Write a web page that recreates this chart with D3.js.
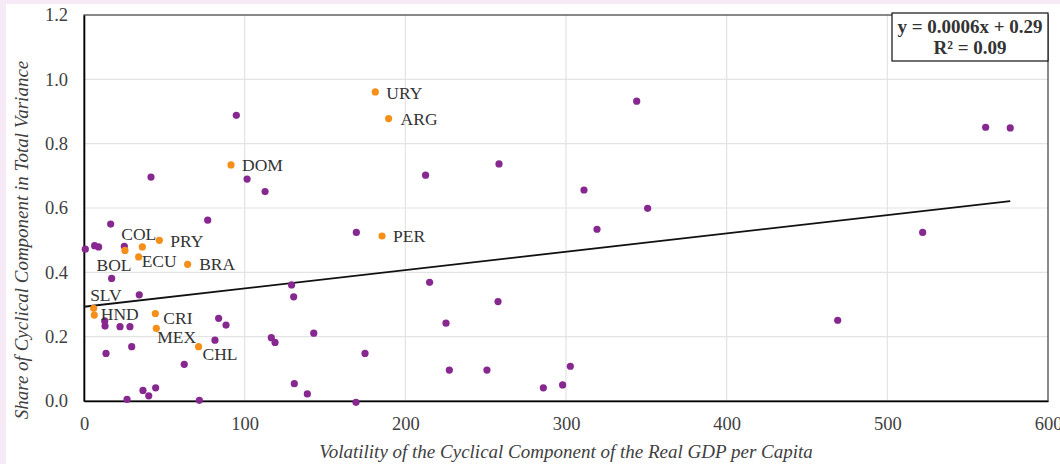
<!DOCTYPE html>
<html lang="en">
<head>
<meta charset="utf-8">
<title>Cyclical share vs volatility</title>
<script src="https://d3js.org/d3.v7.min.js"></script>
<style>
  body { margin: 0; background: #f5eaf6; }
  svg { display: block; }
  .tick text { font-family: "Liberation Serif", serif; font-size: 18.5px; fill: #404040; }
  .grid line { stroke: #e3e3e3; stroke-width: 1.2; }
  .axis-title { font-family: "Liberation Serif", serif; font-style: italic; font-size: 19px; fill: #404040; }
  .lbl { font-family: "Liberation Serif", serif; font-size: 17.5px; fill: #333; }
  .eq { font-family: "Liberation Serif", serif; font-weight: bold; font-size: 19px; fill: #333; }
</style>
</head>
<body>
<div id="chart"></div>
<script>
// labelled countries (orange)
const namedCodes = ["URY", "ARG", "DOM", "PER", "PRY", "COL", "BOL", "ECU", "BRA", "SLV", "HND", "CRI", "MEX", "CHL"];
const namedX = [181.3, 189.6, 91.5, 185.5, 46.9, 36.3, 25.5, 34.0, 64.5, 6.0, 6.4, 44.4, 45.0, 71.3];
const namedY = [0.961, 0.878, 0.734, 0.513, 0.4995, 0.479, 0.468, 0.448, 0.425, 0.288, 0.267, 0.272, 0.226, 0.169];

// other countries (purple)
const otherX = [94.8, 344, 561.2, 576.5, 41.7, 101.5, 112.7, 16.6, 77.0,
  0.8, 6.6, 9.1, 25.1, 169.5, 17.2, 129.2, 130.5, 34.4,
  12.9, 13.1, 22.4, 28.6, 13.7, 29.7, 83.8, 88.4, 81.5, 62.4,
  116.6, 118.9, 143.0, 130.9, 139.0, 169.3, 36.7, 40.3, 44.6, 26.8, 71.8,
  212.6, 258.3, 311.2, 350.8, 319.3, 215.1, 257.7,
  174.9, 225.3, 227.4, 250.8, 285.9, 297.9, 302.7, 522, 469.1];
const otherY = [0.888, 0.932, 0.851, 0.849, 0.696, 0.690, 0.651, 0.550, 0.562,
  0.472, 0.483, 0.479, 0.481, 0.524, 0.381, 0.361, 0.324, 0.330,
  0.249, 0.233, 0.231, 0.231, 0.148, 0.169, 0.257, 0.236, 0.189, 0.114,
  0.197, 0.182, 0.211, 0.054, 0.022, -0.004, 0.033, 0.016, 0.041, 0.005, 0.002,
  0.702, 0.737, 0.656, 0.599, 0.534, 0.369, 0.309,
  0.148, 0.242, 0.096, 0.096, 0.041, 0.050, 0.108, 0.524, 0.251];

// linear trend
const trendSlope = 0.00057;
const trendIntercept = 0.293;
const eqLines = ["y = 0.0006x + 0.29", "R² = 0.09"];

const xTicks = [0, 100, 200, 300, 400, 500, 600];
const yTicks = [0, 0.2, 0.4, 0.6, 0.8, 1.0, 1.2];

const xTitle = "Volatility of  the Cyclical Component of  the Real GDP per Capita";
const yTitle = "Share of  Cyclical Component in Total Variance";

const w = 1060, h = 464;
const m = {left: 84, right: 12, top: 15, bottom: 63};
const serif = '"Liberation Serif", serif';

const svg = d3.select("#chart").append("svg")
  .attr("width", w).attr("height", h);

// white panel with pink margin
svg.append("rect").attr("x", 0).attr("y", 0).attr("width", w).attr("height", h).attr("fill", "#f5eaf6");
svg.append("rect").attr("x", 6).attr("y", 4).attr("width", w - 6).attr("height", h - 4).attr("fill", "#fff");

const x = d3.scaleLinear().domain([0, 600]).range([m.left, w - m.right]);
const y = d3.scaleLinear().domain([0, 1.2]).range([h - m.bottom, m.top]);

// gridlines
svg.append("g").attr("class", "grid")
  .selectAll("line").data(xTicks.slice(1, -1)).join("line")
  .attr("x1", d => x(d)).attr("x2", d => x(d))
  .attr("y1", y(0)).attr("y2", y(1.2));
svg.append("g").attr("class", "grid")
  .selectAll("line").data(yTicks.slice(1, -1)).join("line")
  .attr("y1", d => y(d)).attr("y2", d => y(d))
  .attr("x1", x(0)).attr("x2", x(600));

// frame
svg.append("rect")
  .attr("x", x(0)).attr("y", y(1.2))
  .attr("width", x(600) - x(0)).attr("height", y(0) - y(1.2))
  .attr("fill", "none").attr("stroke", "#4a4a4a").attr("stroke-width", 1.3);

// axes
const xAxis = svg.append("g").attr("transform", `translate(0,${y(0)})`)
  .call(d3.axisBottom(x).tickValues(xTicks).tickSize(0).tickPadding(16).tickFormat(d3.format("d")))
  .attr("font-family", serif).attr("font-size", 18.5);
xAxis.select(".domain").attr("stroke", "#000").attr("stroke-width", 1.6);

const yAxis = svg.append("g").attr("transform", `translate(${x(0)},0)`)
  .call(d3.axisLeft(y).tickValues(yTicks).tickSize(0).tickPadding(16).tickFormat(d3.format(".1f")))
  .attr("font-family", serif).attr("font-size", 18.5);
yAxis.select(".domain").attr("stroke", "#000").attr("stroke-width", 1.6);

// trend line
const xMax = d3.max(otherX.concat(namedX));
svg.append("line")
  .attr("x1", x(0)).attr("y1", y(trendIntercept))
  .attr("x2", x(xMax)).attr("y2", y(trendIntercept + trendSlope * xMax))
  .attr("stroke", "#111").attr("stroke-width", 1.8);

// points
const others = otherX.map((v, i) => ({x: v, y: otherY[i]}));
svg.append("g").selectAll("circle").data(others).join("circle")
  .attr("cx", d => x(d.x)).attr("cy", d => y(d.y)).attr("r", 3.6)
  .attr("fill", "#86288f");

const named = namedCodes.map((c, i) => ({code: c, x: namedX[i], y: namedY[i]}));
svg.append("g").selectAll("circle").data(named).join("circle")
  .attr("cx", d => x(d.x)).attr("cy", d => y(d.y)).attr("r", 3.6)
  .attr("fill", "#f4901a");

// label offsets (px) from each point
const labelOffset = {
  URY: [11, 7], ARG: [12, 6], DOM: [11, 6], PER: [11, 6], PRY: [11, 6.5],
  COL: [-21, -7], BOL: [-28.5, 21], ECU: [3, 10.5], BRA: [11.5, 6],
  SLV: [-3.5, -7.5], HND: [6.5, 5], CRI: [8, 10.5], MEX: [1, 15], CHL: [4, 13.5]
};
svg.append("g").selectAll("text").data(named).join("text")
  .attr("class", "lbl")
  .attr("x", d => x(d.x) + labelOffset[d.code][0])
  .attr("y", d => y(d.y) + labelOffset[d.code][1])
  .text(d => d.code);

// equation box
const bx = 892, bw = x(600) - 892;
svg.append("rect").attr("x", bx).attr("y", 13).attr("width", bw).attr("height", 48)
  .attr("fill", "#fff").attr("stroke", "#111").attr("stroke-width", 1.2);
svg.selectAll(".eq").data(eqLines).join("text")
  .attr("class", "eq")
  .attr("x", bx + bw / 2).attr("y", (d, i) => 33 + i * 21)
  .attr("text-anchor", "middle")
  .text(d => d);

// axis titles
svg.append("text").attr("class", "axis-title")
  .attr("x", (x(0) + x(600)) / 2).attr("y", 458)
  .attr("text-anchor", "middle").text(xTitle);
svg.append("text").attr("class", "axis-title")
  .attr("transform", "translate(28,240) rotate(-90)")
  .attr("text-anchor", "middle").text(yTitle);
</script>
</body>
</html>
